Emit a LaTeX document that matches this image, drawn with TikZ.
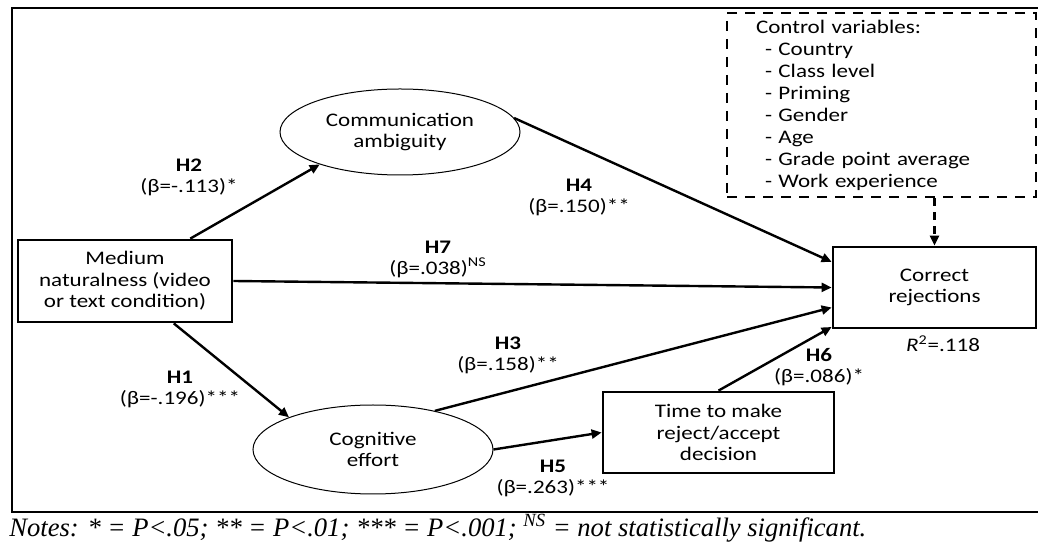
\documentclass[tikz,border=0pt]{standalone}
\usepackage{fontspec}
\setmainfont[FakeStretch=1.2]{Carlito}
\newfontfamily\notesfont{Liberation Serif}
\usetikzlibrary{shapes.geometric,arrows.meta}

\tikzset{
  varbox/.style={draw, line width=1.4pt, align=center, inner sep=0pt},
  latent/.style={draw, ellipse, line width=0.5pt, align=center, inner sep=0pt},
  ctrlbox/.style={draw, line width=1.2pt, dash pattern=on 5pt off 4pt, align=left,
    text width=125.5pt, inner xsep=14.5pt, inner ysep=0pt, minimum height=92pt,
    font=\fontsize{9.6}{11}\selectfont},
  hyp/.style={align=center, inner sep=0pt, font=\fontsize{9.6}{10.5}\selectfont},
  effect/.style={line width=1.2pt, -{Triangle[length=5pt,width=4.5pt]}},
}

\begin{document}
\begin{tikzpicture}[x=0.5pt, y=-0.5pt, font=\fontsize{9.6}{10.8}\selectfont]
\useasboundingbox (0,0) rectangle (1038,544);
\draw[line width=1pt] (12,8) rectangle (1045,512);

% variables
\node[varbox, minimum width=107pt, minimum height=41pt] (medium) at (125,281)
  {Medium\\naturalness (video\\or text condition)};
\node[latent, minimum width=120pt, minimum height=43pt] (comm) at (400,132)
  {Communication\\ambiguity};
\node[latent, minimum width=120pt, minimum height=44.5pt] (cogn) at (373,449.5)
  {Cognitive\\effort};
\node[varbox, minimum width=115.5pt, minimum height=40.5pt] (time) at (718.5,432.5)
  {Time to make\\reject/accept\\decision};
\node[varbox, minimum width=101.5pt, minimum height=40.5pt] (correct) at (934.5,287.5)
  {Correct\\rejections};
\node[hyp] (rsq) at (943,344) {\textit{R}\textsuperscript{2}=.118};
\node[ctrlbox] (ctrl) at (881.5,105)
  {Control variables:\\
   \hspace*{4.5pt}- Country\\
   \hspace*{4.5pt}- Class level\\
   \hspace*{4.5pt}- Priming\\
   \hspace*{4.5pt}- Gender\\
   \hspace*{4.5pt}- Age\\
   \hspace*{4.5pt}- Grade point average\\
   \hspace*{4.5pt}- Work experience};

% paths
\draw[effect] (medium.33) -- (comm.202);
\draw[effect] (medium.-41) -- (cogn.159);
\draw[effect] (medium.east) -- (correct.west);
\draw[effect] (comm.7) -- (correct.166);
\draw[effect] (cogn.32) -- (correct.191);
\draw[effect] (cogn.east) -- (time.west);
\draw[effect] (time.north) -- (correct.201);
\draw[effect, dash pattern=on 4pt off 3pt] (ctrl.south -| correct.north) -- (correct.north);

% labels
\node[hyp] (h2) at (189,177.5) {\textbf{H2}\\(β=-.113)*};
\node[hyp] (h7) at (438,259) {\textbf{H7}\\(β=.038)\textsuperscript{NS}};
\node[hyp] (h4) at (579,197.5) {\textbf{H4}\\(β=.150)**};
\node[hyp] (h3) at (508,355) {\textbf{H3}\\(β=.158)**};
\node[hyp] (h1) at (180,389) {\textbf{H1}\\(β=-.196)***};
\node[hyp] (h5) at (553,478) {\textbf{H5}\\(β=.263)***};
\node[hyp] (h6) at (819,367) {\textbf{H6}\\(β=.086)*};

\node[anchor=base west, inner sep=0pt, font=\notesfont\fontsize{13.3}{14}\selectfont\itshape]
  (notes) at (9,537)
  {Notes: * = P<.05; ** = P<.01; *** = P<.001; \textsuperscript{NS} = not statistically significant.};
\end{tikzpicture}
\end{document}
